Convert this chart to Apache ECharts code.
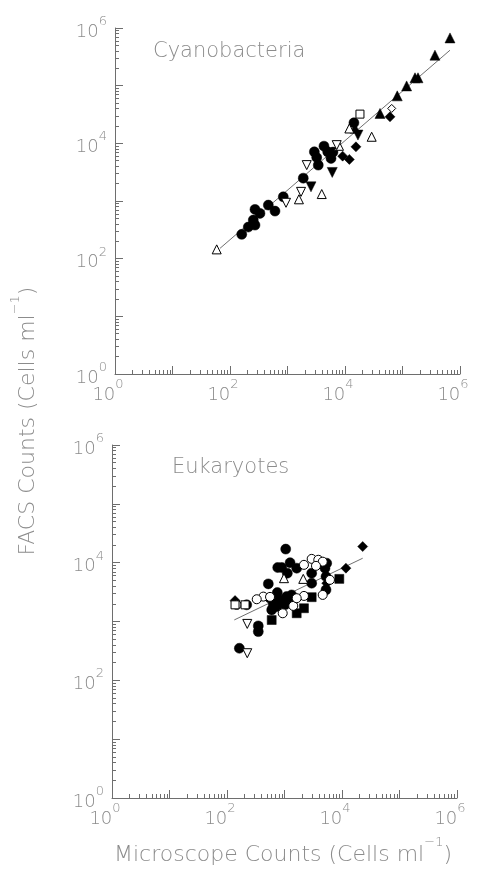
<!DOCTYPE html>
<html>
<head>
<meta charset="utf-8">
<script src="https://cdn.jsdelivr.net/npm/echarts@6/dist/echarts.min.js"></script>
<style>
  html, body { margin: 0; padding: 0; background: #fff; }
  #chart { width: 480px; height: 873px; }
</style>
</head>
<body>
<div id="chart"></div>
<script>
// ---- axis ticks (cells per ml, log scale) ----
const decadeTicks = [1, 10, 100, 1e3, 1e4, 1e5, 1e6];
const labelTicks = [1, 100, 1e4, 1e6];
const minorMultipliers = [2, 3, 4, 5, 6, 7, 8, 9];

// ---- Cyanobacteria: [microscope count, FACS count] ----
const cyanoFilledCircle = [[160, 264], [208, 353], [272, 382], [254, 467], [332, 610], [272, 715],
  [606, 668], [464, 849], [845, 1180], [1880, 2490], [3430, 4190], [3220, 5700], [2930, 7120],
  [4310, 8940], [5000, 7120], [5710, 5470], [6180, 7040], [14300, 22700]];
const cyanoFilledUp = [[14900, 18300], [40600, 33000], [81000, 66600], [118000, 99000],
  [165000, 137000], [186000, 137000], [367000, 338000], [670000, 673000]];
const cyanoFilledDown = [[2560, 1760], [6000, 3130], [16800, 13900]];
const cyanoFilledDiamond = [[9100, 6000], [11900, 5260], [15500, 8700], [60600, 28800]];
const cyanoOpenDiamond = [[64900, 40300]];
const cyanoOpenSquare = [[18200, 32100]];
const cyanoOpenUp = [[58.7, 145], [1580, 1070], [3940, 1320], [7870, 9060], [11900, 18100], [29100, 13000]];
const cyanoOpenDown = [[942, 931], [1720, 1440], [2160, 4190], [7170, 9300]];
const cyanoFit = [[67, 151], [670000, 412000]];

// ---- Eukaryotes: [microscope count, FACS count] ----
const eukFilledCircle = [[1050, 17000], [1250, 10000], [762, 8260], [894, 8260], [1120, 6630],
  [1630, 8060], [523, 4360], [750, 3100], [164, 351], [350, 842], [350, 673], [220, 1920],
  [835, 2330], [1020, 1920], [731, 1790], [1090, 2650], [1330, 2830], [1410, 2330],
  [560, 2490], [780, 2180], [639, 1920], [599, 1575], [2970, 6630], [2970, 4480],
  [5060, 8060], [5270, 5800], [5420, 9800], [5270, 3450]];
const eukOpenCircle = [[2970, 11600], [3870, 11200], [4620, 10400], [2180, 9180], [3530, 8830],
  [4620, 2830], [2180, 2720], [931, 1380], [1420, 1840], [428, 2650], [329, 2390],
  [6180, 5100], [147, 1920], [1630, 2490], [560, 2620]];
const eukOpenUp = [[980, 5450], [2120, 5300]];
const eukOpenDown = [[225, 910], [225, 289]];
const eukOpenSquare = [[138, 1920], [206, 1920]];
const eukFilledSquare = [[599, 1060], [1630, 1380], [2180, 1680], [2970, 2590], [8980, 5300]];
const eukFilledDiamond = [[22900, 18800], [11700, 8060], [138, 2270], [5420, 4480]];
const eukFit = [[134, 1064], [22900, 11900]];

// ---- styling ----
const TEXT = '#8c8c8c';
const AXIS = '#6e6e6e';
const FONT = '"DejaVu Sans", sans-serif';
const WEIGHT = 200;

const minorTicks = [];
decadeTicks.forEach(function (d, i) {
  minorTicks.push(d);
  if (i < decadeTicks.length - 1) minorMultipliers.forEach(function (m) { minorTicks.push(m * d); });
});

const powerRich = {
  b: { fontSize: 18, lineHeight: 26, verticalAlign: 'bottom', color: TEXT, fontFamily: FONT, fontWeight: WEIGHT },
  e: { fontSize: 13, lineHeight: 13, verticalAlign: 'top', color: TEXT, fontFamily: FONT, fontWeight: WEIGHT }
};
function powerLabel(v) {
  return '{b|10}{e|' + Math.round(Math.log10(v)) + '}';
}

function mainAxis(grid, isX) {
  return {
    type: 'log', logBase: 10, min: 1, max: 1e6, gridIndex: grid,
    position: isX ? 'bottom' : 'left',
    axisLine: { show: true, lineStyle: { color: AXIS, width: 1 } },
    axisTick: { show: true, inside: true, length: 4, customValues: minorTicks, lineStyle: { color: AXIS, width: 1 } },
    axisLabel: {
      show: true, customValues: labelTicks, formatter: powerLabel, rich: powerRich,
      margin: isX ? 4 : 8, padding: isX ? [0, 14, 0, 0] : 0
    },
    splitLine: { show: false }
  };
}
function majorAxis(grid, isX) {
  return {
    type: 'log', logBase: 10, min: 1, max: 1e6, gridIndex: grid,
    position: isX ? 'bottom' : 'left',
    axisLine: { show: false },
    axisTick: { show: true, inside: true, length: 8, customValues: decadeTicks, lineStyle: { color: AXIS, width: 1 } },
    axisLabel: { show: false },
    splitLine: { show: false }
  };
}

function marks(name, data, grid, symbol, filled, size, rotate) {
  return {
    name: name, type: 'scatter', data: data,
    xAxisIndex: grid * 2, yAxisIndex: grid * 2,
    symbol: symbol, symbolSize: size, symbolRotate: rotate || 0,
    itemStyle: filled
      ? { color: '#000', borderColor: '#000', borderWidth: 0.5, opacity: 1 }
      : { color: '#fff', borderColor: '#000', borderWidth: 1, opacity: 1 },
    emphasis: { disabled: true },
    z: filled ? 2 : 3
  };
}
function fitLine(name, data, grid) {
  return {
    name: name, type: 'line', data: data,
    xAxisIndex: grid * 2, yAxisIndex: grid * 2,
    showSymbol: false, symbol: 'none', silent: true,
    lineStyle: { color: '#4a4a4a', width: 0.8 },
    z: 1
  };
}

const chart = echarts.init(document.getElementById('chart'), null, { renderer: 'canvas' });

chart.setOption({
  animation: false,
  backgroundColor: '#fff',
  grid: [
    { left: 115, top: 28, width: 345, height: 346, outerBoundsMode: 'none' },
    { left: 112, top: 445, width: 345, height: 353, outerBoundsMode: 'none' }
  ],
  xAxis: [mainAxis(0, true), majorAxis(0, true), mainAxis(1, true), majorAxis(1, true)],
  yAxis: [mainAxis(0, false), majorAxis(0, false), mainAxis(1, false), majorAxis(1, false)],
  graphic: [
    {
      type: 'text', x: 153, y: 52,
      style: { text: 'Cyanobacteria', fill: TEXT, font: WEIGHT + ' 21px ' + FONT, textVerticalAlign: 'middle' }
    },
    {
      type: 'text', x: 172, y: 468,
      style: { text: 'Eukaryotes', fill: TEXT, font: WEIGHT + ' 21px ' + FONT, textVerticalAlign: 'middle' }
    },
    {
      type: 'text', x: 283, y: 851,
      style: {
        text: '{n|Microscope Counts (Cells ml}{s|\u22121}{n|)}',
        textAlign: 'center', textVerticalAlign: 'middle',
        rich: {
          n: { fontSize: 22, lineHeight: 30, verticalAlign: 'bottom', fill: TEXT, fontFamily: FONT, fontWeight: WEIGHT },
          s: { fontSize: 13, lineHeight: 13, verticalAlign: 'top', fill: TEXT, fontFamily: FONT, fontWeight: WEIGHT }
        }
      }
    },
    {
      type: 'text', x: 24, y: 421, rotation: Math.PI / 2,
      style: {
        text: '{n|FACS Counts (Cells ml}{s|\u22121}{n|)}',
        textAlign: 'center', textVerticalAlign: 'middle',
        rich: {
          n: { fontSize: 22, lineHeight: 30, verticalAlign: 'bottom', fill: TEXT, fontFamily: FONT, fontWeight: WEIGHT },
          s: { fontSize: 13, lineHeight: 13, verticalAlign: 'top', fill: TEXT, fontFamily: FONT, fontWeight: WEIGHT }
        }
      }
    }
  ],
  series: [
    fitLine('Cyanobacteria fit', cyanoFit, 0),
    marks('c-filled-circle', cyanoFilledCircle, 0, 'circle', true, 10),
    marks('c-filled-up', cyanoFilledUp, 0, 'triangle', true, 10),
    marks('c-filled-down', cyanoFilledDown, 0, 'triangle', true, 10, 180),
    marks('c-filled-diamond', cyanoFilledDiamond, 0, 'diamond', true, 10),
    marks('c-open-diamond', cyanoOpenDiamond, 0, 'diamond', false, 8),
    marks('c-open-square', cyanoOpenSquare, 0, 'rect', false, 8),
    marks('c-open-up', cyanoOpenUp, 0, 'triangle', false, 9),
    marks('c-open-down', cyanoOpenDown, 0, 'triangle', false, 9, 180),

    fitLine('Eukaryotes fit', eukFit, 1),
    marks('e-filled-circle', eukFilledCircle, 1, 'circle', true, 10),
    marks('e-filled-square', eukFilledSquare, 1, 'rect', true, 9),
    marks('e-filled-diamond', eukFilledDiamond, 1, 'diamond', true, 10),
    marks('e-open-circle', eukOpenCircle, 1, 'circle', false, 9),
    marks('e-open-square', eukOpenSquare, 1, 'rect', false, 8),
    marks('e-open-up', eukOpenUp, 1, 'triangle', false, 9),
    marks('e-open-down', eukOpenDown, 1, 'triangle', false, 9, 180)
  ]
});
</script>
</body>
</html>
